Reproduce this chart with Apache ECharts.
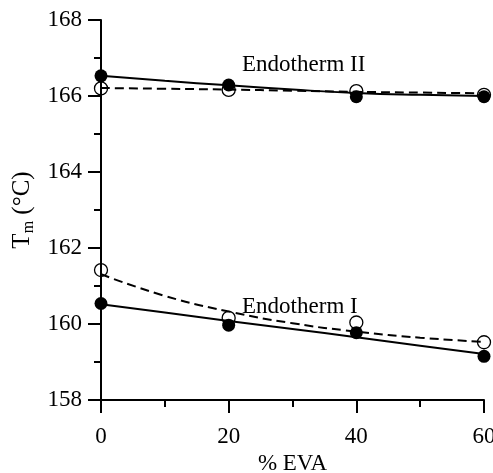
<!DOCTYPE html>
<html>
<head>
<meta charset="utf-8">
<script src="https://cdn.jsdelivr.net/npm/echarts@6/dist/echarts.min.js"></script>
<style>html,body{margin:0;padding:0;background:#fff}#c{width:493px;height:473px}</style>
</head>
<body>
<div id="c"></div>
<script>
// Measured points (% EVA vs Tm)
const evaX = [0, 20, 40, 60];
const endoIIFilled = [166.53, 166.29, 165.98, 165.98];
const endoIIOpen = [166.20, 166.16, 166.13, 166.03];
const endoIFilled = [160.54, 159.97, 159.77, 159.15];
const endoIOpen = [161.42, 160.16, 160.04, 159.52];
// Fit curves
const fitX = [0, 10, 20, 30, 40, 50, 60];
const fitIISolid = [166.53, 166.40, 166.28, 166.17, 166.08, 166.03, 166.00];
const fitIIDashed = [166.21, 166.19, 166.17, 166.14, 166.11, 166.09, 166.07];
const fitISolid = [160.52, 160.30, 160.08, 159.87, 159.65, 159.43, 159.21];
const fitIDashed = [161.31, 160.74, 160.33, 160.02, 159.80, 159.64, 159.53];
const xTicks = [0, 20, 40, 60];
const yTicks = [158, 160, 162, 164, 166, 168];
const labels = [
  { text: 'Endotherm II', x: 22.1, y: 166.82 },
  { text: 'Endotherm I', x: 22.1, y: 160.45 }
];

const font = '"Liberation Serif", "Times New Roman", serif';
const pair = (xs, ys) => xs.map((x, i) => [x, ys[i]]);

const chart = echarts.init(document.getElementById('c'));
const lineSeries = (data, dashed) => ({
  type: 'line', data: pair(fitX, data), showSymbol: false, symbol: 'none', smooth: true,
  lineStyle: { color: '#000', width: 2, type: dashed ? [9, 5] : 'solid' }, clip: false, silent: true, z: 1
});
const scatter = (data, filled) => ({
  type: 'scatter', data: pair(evaX, data), symbol: 'circle', symbolSize: 13, clip: false,
  itemStyle: filled ? { color: '#000', opacity: 1 } : { color: 'rgba(255,255,255,0)', borderColor: '#000', borderWidth: 1.3, opacity: 1 },
  z: filled ? 4 : 3
});
chart.setOption({
  animation: false,
  backgroundColor: '#fff',
  grid: { left: 101, top: 20, right: 9, bottom: 73, containLabel: false, outerBoundsMode: 'none' },
  xAxis: {
    type: 'value', min: 0, max: 60, interval: 20,
    name: '% EVA', nameLocation: 'middle', nameGap: 52,
    nameTextStyle: { fontFamily: font, fontSize: 23, color: '#000' },
    axisLine: { lineStyle: { color: '#000', width: 2 } },
    axisTick: { length: 13, lineStyle: { color: '#000', width: 2 } },
    minorTick: { show: true, splitNumber: 2, length: 7, lineStyle: { color: '#000', width: 2 } },
    axisLabel: { fontFamily: font, fontSize: 23, color: '#000', margin: 25,
      customValues: xTicks, formatter: v => String(v) },
    splitLine: { show: false }
  },
  yAxis: {
    type: 'value', min: 158, max: 168, interval: 2,
    name: '{a|T}{b|m}{a| (°C)}', nameLocation: 'middle', nameGap: 64, nameRotate: 90,
    nameTextStyle: { fontFamily: font, fontSize: 25, color: '#000',
      rich: { a: { fontFamily: font, fontSize: 25, color: '#000' },
              b: { fontFamily: font, fontSize: 16, color: '#000', padding: [12, 0, 0, 0] } } },
    axisLine: { lineStyle: { color: '#000', width: 2 } },
    axisTick: { length: 13, lineStyle: { color: '#000', width: 2 } },
    minorTick: { show: true, splitNumber: 2, length: 7, lineStyle: { color: '#000', width: 2 } },
    axisLabel: { fontFamily: font, fontSize: 23, color: '#000', margin: 19, formatter: v => String(v) },
    splitLine: { show: false }
  },
  series: [
    lineSeries(fitIISolid, false),
    lineSeries(fitIIDashed, true),
    lineSeries(fitISolid, false),
    lineSeries(fitIDashed, true),
    scatter(endoIIOpen, false),
    scatter(endoIIFilled, true),
    scatter(endoIOpen, false),
    scatter(endoIFilled, true),
    {
      type: 'scatter', data: labels.map(l => ({ value: [l.x, l.y], name: l.text })),
      symbolSize: 0, silent: true, z: 5, itemStyle: { opacity: 1 },
      label: { show: true, position: 'right', distance: 0, formatter: p => p.name,
        fontFamily: font, fontSize: 23, color: '#000', opacity: 1 }
    }
  ]
});
</script>
</body>
</html>
